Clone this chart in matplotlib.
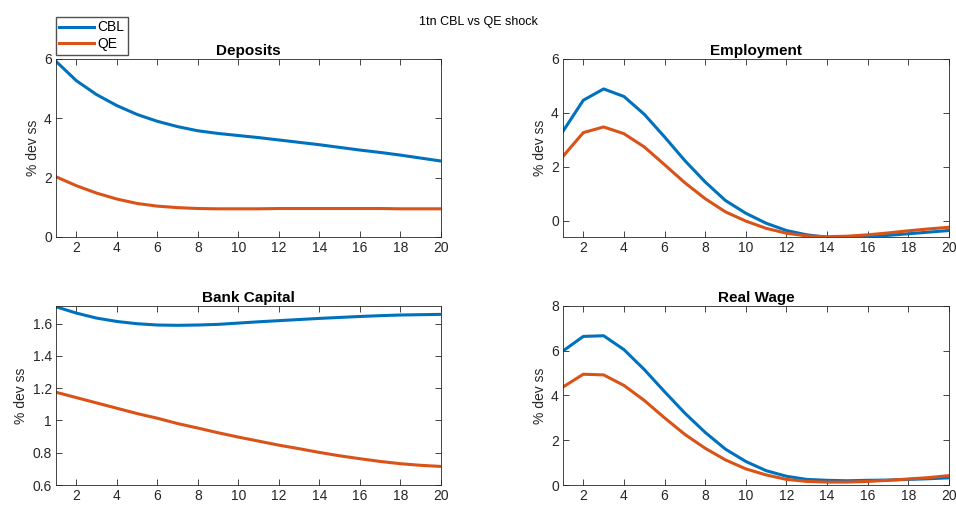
import numpy as np
import matplotlib
matplotlib.use('Agg')
import matplotlib.pyplot as plt
from matplotlib.ticker import FuncFormatter

plt.rcParams['font.family'] = ['Liberation Sans', 'DejaVu Sans']

periods = np.arange(1, 21)

deposits_cbl = [5.92, 5.27, 4.80, 4.43, 4.13, 3.90, 3.72, 3.58, 3.49, 3.42,
                3.35, 3.27, 3.19, 3.11, 3.02, 2.93, 2.85, 2.76, 2.66, 2.56]
deposits_qe = [2.03, 1.73, 1.48, 1.28, 1.13, 1.04, 0.99, 0.96, 0.95, 0.95,
               0.95, 0.96, 0.96, 0.96, 0.96, 0.96, 0.96, 0.95, 0.95, 0.95]

employment_cbl = [3.32, 4.47, 4.89, 4.61, 3.95, 3.11, 2.23, 1.44, 0.75, 0.28,
                  -0.09, -0.36, -0.52, -0.61, -0.62, -0.59, -0.54, -0.48, -0.42, -0.36]
employment_qe = [2.39, 3.27, 3.48, 3.23, 2.74, 2.08, 1.41, 0.82, 0.33, -0.01,
                 -0.28, -0.46, -0.56, -0.59, -0.57, -0.52, -0.45, -0.37, -0.30, -0.24]

capital_cbl = [1.705, 1.666, 1.635, 1.614, 1.600, 1.592, 1.590, 1.592, 1.596, 1.604,
               1.612, 1.619, 1.626, 1.633, 1.639, 1.645, 1.650, 1.654, 1.656, 1.658]
capital_qe = [1.175, 1.142, 1.109, 1.076, 1.043, 1.014, 0.981, 0.953, 0.924, 0.897,
              0.872, 0.847, 0.825, 0.802, 0.781, 0.763, 0.746, 0.732, 0.722, 0.715]

wage_cbl = [5.99, 6.64, 6.67, 6.05, 5.16, 4.17, 3.21, 2.35, 1.60, 1.05,
            0.64, 0.39, 0.25, 0.21, 0.19, 0.21, 0.22, 0.25, 0.28, 0.32]
wage_qe = [4.38, 4.95, 4.92, 4.45, 3.78, 3.00, 2.26, 1.64, 1.12, 0.72,
           0.45, 0.25, 0.16, 0.13, 0.13, 0.16, 0.21, 0.27, 0.33, 0.42]

blue = '#0072BD'
orange = '#D95319'
grey = '#262626'

panels = [
    ('Deposits', deposits_cbl, deposits_qe, (0, 6), [0, 2, 4, 6], [0.0586, 0.5307, 0.4027, 0.3525]),
    ('Employment', employment_cbl, employment_qe, (-0.6, 6), [0, 2, 4, 6], [0.5889, 0.5307, 0.4038, 0.3525]),
    ('Bank Capital', capital_cbl, capital_qe, (0.6, 1.71), [0.6, 0.8, 1.0, 1.2, 1.4, 1.6], [0.0586, 0.0396, 0.4027, 0.3545]),
    ('Real Wage', wage_cbl, wage_qe, (0, 8), [0, 2, 4, 6, 8], [0.5889, 0.0396, 0.4038, 0.3545]),
]

fig = plt.figure(figsize=(9.56, 5.05), dpi=100)

fmt = FuncFormatter(lambda v, p: ('%g' % round(v, 2)))

for title, cbl, qe, ylim, yticks, pos in panels:
    ax = fig.add_axes(pos)
    l1, = ax.plot(periods, cbl, color=blue, lw=2.2, label='CBL')
    l2, = ax.plot(periods, qe, color=orange, lw=2.2, label='QE')
    ax.set_xlim(1, 20)
    ax.set_ylim(*ylim)
    ax.set_xticks(np.arange(2, 21, 2))
    ax.set_yticks(yticks)
    ax.yaxis.set_major_formatter(fmt)
    ax.set_title(title, fontsize=11, fontweight='bold', pad=3)
    ax.set_ylabel('% dev ss', fontsize=10, color=grey, labelpad=3)
    ax.tick_params(direction='in', top=True, right=True, labelsize=10,
                   colors=grey, length=4, width=0.6, pad=3)
    for s in ax.spines.values():
        s.set_color(grey)
        s.set_linewidth(0.6)

fig.legend([l1, l2], ['CBL', 'QE'], loc='upper left',
           bbox_to_anchor=(56 / 956, 1 - 17 / 505), fontsize=10,
           frameon=True, fancybox=False, edgecolor=grey, handlelength=2.5,
           borderpad=0.25, labelspacing=0.2, handletextpad=0.25, borderaxespad=0)
fig.text(0.5, 1 - 22 / 505, '1tn CBL vs QE shock', ha='center', va='center', fontsize=9)

fig.savefig('out.png', dpi=100)
